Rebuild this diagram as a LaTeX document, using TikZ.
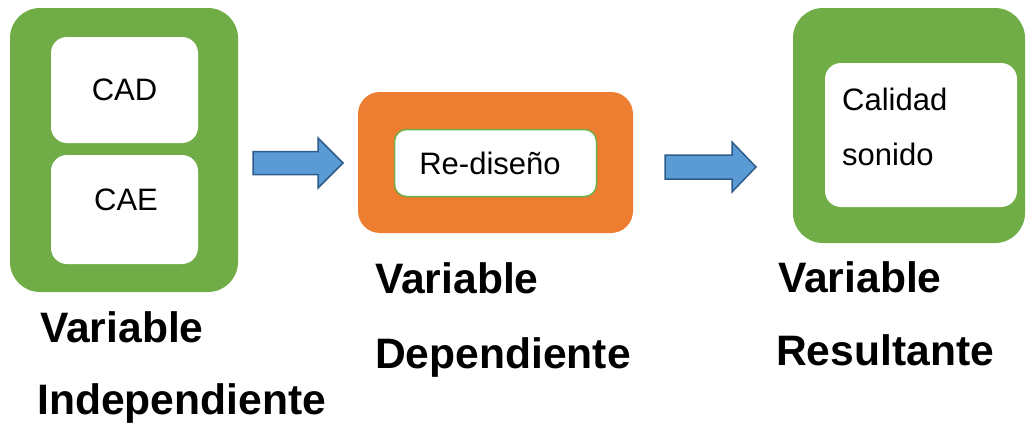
\documentclass[tikz,border=0pt]{standalone}
\usepackage{fontspec}
\setmainfont{Liberation Sans}
\definecolor{vgreen}{HTML}{70AD47}
\definecolor{vorange}{HTML}{ED7D31}
\definecolor{vblue}{HTML}{5B9BD5}
\definecolor{vblueedge}{HTML}{2E5C8A}
\tikzset{
  outerbox/.style={rectangle, rounded corners=30pt, inner sep=0pt},
  innerbox/.style={rectangle, fill=white, rounded corners=16pt, inner sep=0pt},
  boxtext/.style={font=\fontsize{31}{31}\selectfont, inner sep=0pt},
  vlabel/.style={font=\fontsize{42.6}{42.6}\selectfont\bfseries, inner sep=0pt, anchor=base west},
  blockarrow/.style={fill=vblue, draw=vblueedge, line width=1.5pt, line join=miter}
}
\begin{document}
\begin{tikzpicture}[x=1pt,y=-1pt]
\useasboundingbox (0,0) rectangle (1026,423);
% left group
\node[outerbox, fill=vgreen, minimum width=228pt, minimum height=284pt] (ind) at (124,150) {};
\node[innerbox, minimum width=147pt, minimum height=106pt] (cad) at (124.5,90) {};
\node[boxtext, anchor=base] (cadt) at (124.5,100) {CAD};
\node[innerbox, minimum width=147pt, minimum height=109pt] (cae) at (124.5,209.5) {};
\node[boxtext, anchor=base] (caet) at (126,210) {CAE};
% middle group
\node[outerbox, rounded corners=22pt, fill=vorange, minimum width=275pt, minimum height=141pt] (dep) at (495.5,162.5) {};
\node[innerbox, rounded corners=12pt, draw=vgreen, line width=1.5pt, minimum width=202pt, minimum height=67pt] (red) at (495.5,163) {};
\node[boxtext, anchor=base] (redt) at (490,174) {Re-diseño};
% right group
\node[outerbox, fill=vgreen, minimum width=232pt, minimum height=235pt] (res) at (909,125.5) {};
\node[innerbox, minimum width=192pt, minimum height=144pt] (cal) at (921,135) {};
\node[boxtext, anchor=base west] (calt1) at (842,110) {Calidad};
\node[boxtext, anchor=base west] (calt2) at (842,165) {sonido};
% block arrows
\coordinate (a1) at (253,163);
\draw[blockarrow] (a1) ++(0,-11.5) -- ++(65,0) -- ++(0,-13.5) -- ++(25,25) -- ++(-25,25) -- ++(0,-13.5) -- ++(-65,0) -- cycle;
\coordinate (a2) at (665,167);
\draw[blockarrow] (a2) ++(0,-12) -- ++(67,0) -- ++(0,-13) -- ++(24,25) -- ++(-24,25) -- ++(0,-13) -- ++(-67,0) -- cycle;
% labels
\node[vlabel] (l1) at (40,342) {Variable};
\node[vlabel] (l2) at (37,414) {Independiente};
\node[vlabel] (l3) at (375,293) {Variable};
\node[vlabel] (l4) at (375,368) {Dependiente};
\node[vlabel] (l5) at (778,292) {Variable};
\node[vlabel] (l6) at (776,365) {Resultante};
\end{tikzpicture}
\end{document}
